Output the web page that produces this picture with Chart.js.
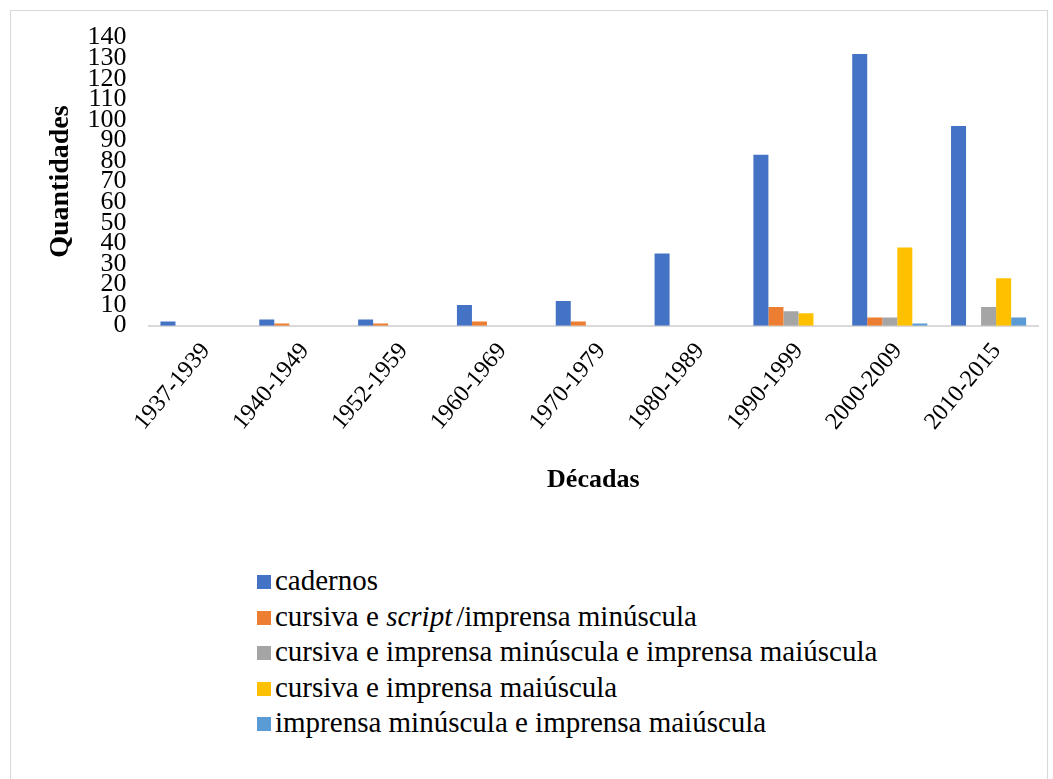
<!DOCTYPE html>
<html>
<head>
<meta charset="utf-8">
<script src="https://cdn.jsdelivr.net/npm/chart.js@4.4.0/dist/chart.umd.min.js"></script>
<style>
  body { margin: 0; background: #fff; }
  #frame {
    position: absolute; left: 10px; top: 10px; width: 1038px; height: 775px;
    border: 1px solid #d9d9d9; box-sizing: border-box;
  }
  #chartBox { position: absolute; left: 0; top: 0; width: 1053px; height: 500px; }
  #legend {
    position: absolute; left: 257px; top: 563px;
    font-size: 29px; color: #000;
  }
  #legend div { height: 35.5px; line-height: 35.5px; white-space: nowrap; }
  #legend span.box {
    display: inline-block; width: 14px; height: 14px; margin-right: 4px;
    vertical-align: 1px;
  }
  #legend i { margin-right: 4px; }
</style>
</head>
<body>
<div id="frame"></div>
<div id="chartBox"><canvas id="myChart"></canvas></div>
<div id="legend"></div>
<script>
// decades on the x axis
var decadas = ["1937-1939", "1940-1949", "1952-1959", "1960-1969", "1970-1979",
               "1980-1989", "1990-1999", "2000-2009", "2010-2015"];

// values
var cadernos         = [2, 3, 3, 10, 12, 35, 83, 132, 97];
var cursivaScript    = [0, 1, 1, 2, 2, 0, 9, 4, 0];
var cursivaMinMai    = [0, 0, 0, 0, 0, 0, 7, 4, 9];
var cursivaMaiuscula = [0, 0, 0, 0, 0, 0, 6, 38, 23];
var minMaiuscula     = [0, 0, 0, 0, 0, 0, 0, 1, 4];

var seriesNames = [
  "cadernos",
  "cursiva e script/imprensa minúscula",
  "cursiva e imprensa minúscula e imprensa maiúscula",
  "cursiva e imprensa maiúscula",
  "imprensa minúscula e imprensa maiúscula"
];
var seriesColors = ["#4472C4", "#ED7D31", "#A5A5A5", "#FFC000", "#5B9BD5"];
var seriesData = [cadernos, cursivaScript, cursivaMinMai, cursivaMaiuscula, minMaiuscula];

var serif = "'Liberation Serif', 'DejaVu Serif', serif";

var datasets = seriesData.map(function (values, i) {
  return {
    label: seriesNames[i],
    data: values,
    backgroundColor: seriesColors[i],
    borderWidth: 0,
    categoryPercentage: 0.76,
    barPercentage: 1.0
  };
});

var chart = new Chart("myChart", {
  type: "bar",
  data: { labels: decadas, datasets: datasets },
  options: {
    responsive: true,
    maintainAspectRatio: false,
    animation: false,
    layout: { padding: { left: 44, right: 15, top: 35, bottom: 4 } },
    plugins: {
      legend: { display: false },
      tooltip: { enabled: false }
    },
    scales: {
      x: {
        grid: { display: false },
        border: { display: true, color: "#d9d9d9", width: 2 },
        ticks: {
          color: "#000",
          font: { family: serif, size: 24 },
          minRotation: 50, maxRotation: 50,
          autoSkip: false,
          padding: 4,
          labelOffset: 8
        },
        title: {
          display: true, text: "Décadas", color: "#000",
          font: { family: serif, size: 26, weight: "bold" },
          padding: { top: 25, bottom: 0 }
        }
      },
      y: {
        min: 0, max: 140,
        grid: { display: false, drawTicks: false },
        border: { display: false },
        ticks: {
          stepSize: 10, autoSkip: false, color: "#000",
          font: { family: serif, size: 26 },
          padding: 22
        },
        title: {
          display: true, text: "Quantidades", color: "#000",
          font: { family: serif, size: 28, weight: "bold" },
          padding: { top: 0, bottom: -12 }
        }
      }
    }
  }
});

// legend as a vertical list, like the original
var legend = document.getElementById("legend");
legend.style.fontFamily = serif;
chart.data.datasets.forEach(function (ds) {
  var row = document.createElement("div");
  var box = document.createElement("span");
  box.className = "box";
  box.style.background = ds.backgroundColor;
  row.appendChild(box);
  var txt = document.createElement("span");
  txt.innerHTML = ds.label.replace("script", "<i>script</i>");
  row.appendChild(txt);
  legend.appendChild(row);
});
</script>
</body>
</html>
